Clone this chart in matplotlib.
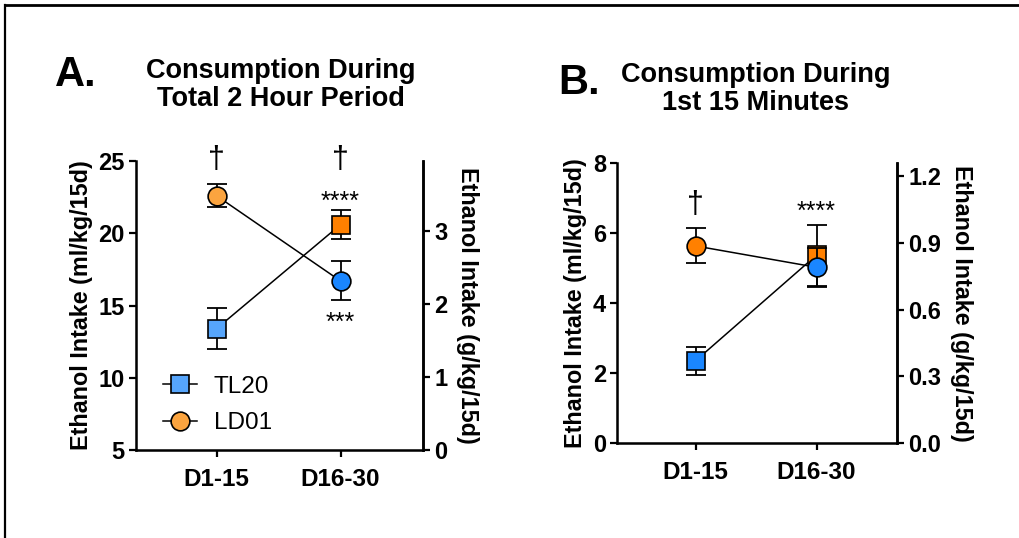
import matplotlib
matplotlib.use('Agg')
import matplotlib.pyplot as plt
from matplotlib.lines import Line2D

plt.rcParams['font.family'] = ['Liberation Sans', 'DejaVu Sans']

groups = ['D1-15', 'D16-30']
group_x = [0, 1]

# panel A: total 2 hour period (ml/kg/15d)
a_tl20_mean = [13.4, 20.6]
a_tl20_sem = [1.4, 1.0]
a_ld01_mean = [22.6, 16.7]
a_ld01_sem = [0.8, 1.35]

# panel B: first 15 minutes (ml/kg/15d)
b_tl20_mean = [2.35, 5.37]
b_tl20_sem = [0.4, 0.87]
b_ld01_mean = [5.63, 5.02]
b_ld01_sem = [0.5, 0.55]

LIGHT_BLUE = '#56a5fb'
LIGHT_ORANGE = '#fba43f'
BLUE = '#1a86ff'
ORANGE = '#ff8000'

a_tl20_colors = [LIGHT_BLUE, ORANGE]
a_ld01_colors = [LIGHT_ORANGE, BLUE]
b_tl20_colors = [BLUE, ORANGE]
b_ld01_colors = [ORANGE, BLUE]


def draw_series(ax, means, sems, colors, marker, z):
    ax.plot(group_x, means, color='black', lw=1.1, zorder=z)
    for x, m, s, c in zip(group_x, means, sems, colors):
        ax.errorbar(x, m, yerr=s, fmt='none', ecolor='black', elinewidth=1.3,
                    capsize=7, capthick=1.3, zorder=z)
        ax.plot(x, m, marker=marker, ms=13.5, mfc=c, mec='black', mew=1.2,
                ls='none', zorder=z + 1)


def style_axes(ax, ymin, ymax, yticks, ax2, rmax, rticks, rfmt):
    ax.set_xlim(-0.65, 1.665)
    ax.set_ylim(ymin, ymax)
    ax.set_yticks(yticks)
    ax.set_xticks(group_x)
    ax.set_xticklabels(groups, fontsize=17.5, fontweight='bold')
    for lab in ax.get_yticklabels():
        lab.set_fontsize(17)
        lab.set_fontweight('bold')
    ax.spines['top'].set_visible(False)
    for s in ['left', 'bottom', 'right']:
        ax.spines[s].set_linewidth(1.8)
    ax.tick_params(width=1.6, length=5, pad=3)
    ax.tick_params(axis='x', pad=8)
    ax.set_ylabel('Ethanol Intake (ml/kg/15d)', fontsize=16.8,
                  fontweight='bold', labelpad=4)

    ax2.set_ylim(0, rmax)
    ax2.set_yticks(rticks)
    ax2.set_yticklabels([rfmt.format(t) for t in rticks], fontsize=17,
                        fontweight='bold')
    ax2.spines['top'].set_visible(False)
    ax2.spines['right'].set_linewidth(1.8)
    ax2.tick_params(width=1.6, length=5, pad=3)
    ax2.set_ylabel('Ethanol Intake (g/kg/15d)', fontsize=16.8,
                   fontweight='bold', rotation=270, labelpad=23)


fig = plt.figure(figsize=(10.2, 5.38), dpi=100)

# ---- panel A ----
axA = fig.add_axes([0.1333, 0.1636, 0.2814, 0.537])
axA2 = axA.twinx()
draw_series(axA, a_tl20_mean, a_tl20_sem, a_tl20_colors, 's', 3)
draw_series(axA, a_ld01_mean, a_ld01_sem, a_ld01_colors, 'o', 5)
style_axes(axA, 5, 25, [5, 10, 15, 20, 25], axA2, 3.96, [0, 1, 2, 3], '{:d}')

for x in group_x:
    axA.text(x, 25.1, '\u2020', ha='center', va='center', fontsize=22)
axA.text(1, 22.2, '****', ha='center', va='center', fontsize=18)
axA.text(1, 13.8, '***', ha='center', va='center', fontsize=18)

handles = [
    Line2D([], [], color='black', lw=1.1, marker='s', ms=13.5, mfc=LIGHT_BLUE,
           mec='black', mew=1.2),
    Line2D([], [], color='black', lw=1.1, marker='o', ms=13.5,
           mfc=LIGHT_ORANGE, mec='black', mew=1.2),
]
axA.legend(handles, ['TL20', 'LD01'], loc='lower left',
           bbox_to_anchor=(0.06, 0.02), frameon=False, fontsize=17.5,
           handlelength=1.4, handletextpad=0.7, labelspacing=0.6,
           borderaxespad=0.0)

# ---- panel B ----
axB = fig.add_axes([0.6049, 0.1766, 0.2745, 0.5204])
axB2 = axB.twinx()
draw_series(axB, b_tl20_mean, b_tl20_sem, b_tl20_colors, 's', 3)
draw_series(axB, b_ld01_mean, b_ld01_sem, b_ld01_colors, 'o', 5)
style_axes(axB, 0, 8, [0, 2, 4, 6, 8], axB2, 1.26,
           [0.0, 0.3, 0.6, 0.9, 1.2], '{:.1f}')
axB.text(0, 6.8, '\u2020', ha='center', va='center', fontsize=22)
axB.text(1, 6.6, '****', ha='center', va='center', fontsize=18)

# ---- titles ----
fig.text(0.074, 0.86, 'A.', fontsize=30, fontweight='bold',
         ha='center', va='center')
fig.text(0.275, 0.842, 'Consumption During\nTotal 2 Hour Period',
         fontsize=19.5, fontweight='bold', ha='center', va='center',
         linespacing=1.1)
fig.text(0.568, 0.845, 'B.', fontsize=30, fontweight='bold',
         ha='center', va='center')
fig.text(0.741, 0.835, 'Consumption During\n1st 15 Minutes',
         fontsize=19.5, fontweight='bold', ha='center', va='center',
         linespacing=1.1)

# frame lines on top and left edge
fig.add_artist(Line2D([0.005, 1.0], [0.991, 0.991], color='black', lw=2,
                      transform=fig.transFigure))
fig.add_artist(Line2D([0.005, 0.005], [0.0, 0.991], color='black', lw=1.6,
                      transform=fig.transFigure))

fig.savefig('out.png', dpi=100)
